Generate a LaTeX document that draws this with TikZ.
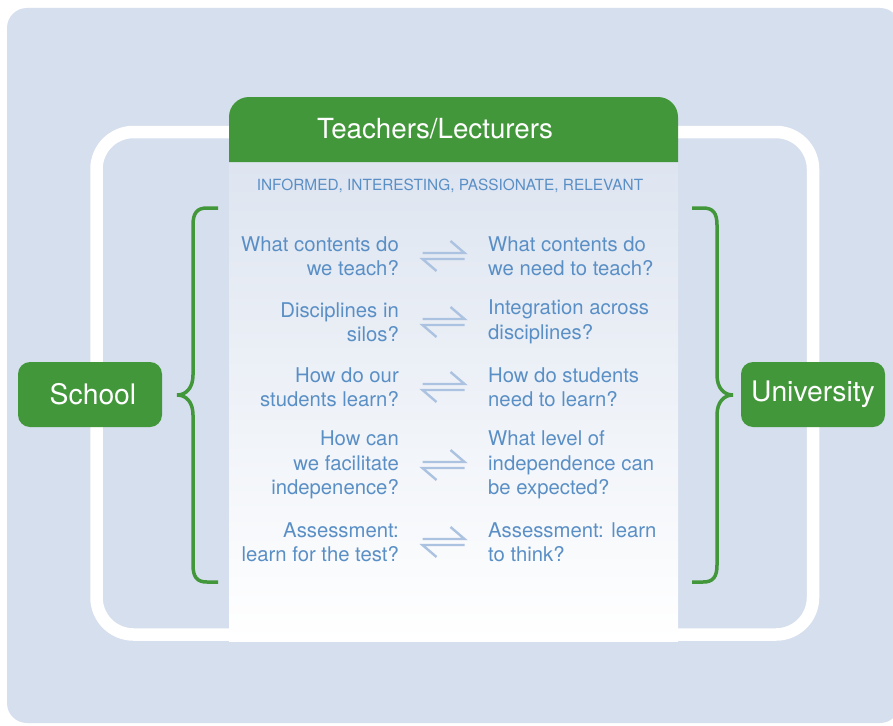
\documentclass[tikz,border=0pt]{standalone}
\usepackage{fontspec}
\setmainfont{TeX Gyre Heros}
\definecolor{bg}{RGB}{214,223,237}
\definecolor{grn}{RGB}{67,151,59}
\definecolor{txt}{RGB}{90,143,198}
\definecolor{arr}{RGB}{172,194,225}
\begin{document}
\begin{tikzpicture}[x=1pt,y=-1pt,
  q/.style={text=txt, font=\fontsize{20.3}{24.5}\selectfont, inner sep=0pt},
  ql/.style={q, align=right, anchor=east},
  qr/.style={q, align=left, anchor=west},
  side/.style={fill=grn, text=white, rounded corners=12pt, minimum width=144pt, minimum height=65pt, inner sep=0pt, font=\fontsize{28.3}{30}\selectfont},
  brace/.style={draw=grn, line width=3.5pt},
  harp/.style={draw=arr, line width=2.4pt}
]
\useasboundingbox (0,0) rectangle (893,725);
\clip (0,0) rectangle (893,725);
\fill[white] (0,0) rectangle (893,725);
% outer panel
\fill[bg, rounded corners=20pt] (7,8) rectangle (900,723);
% white frame
\draw[white, line width=12.5pt, rounded corners=37pt] (96.5,132) rectangle (813,634.5);
% central column
\shade[top color=bg!82!white, bottom color=white] (229,160) rectangle (678,641);
\fill[grn] (229,162) [rounded corners=20pt] -- (229,97) -- (678,97) [sharp corners] -- (678,162) -- cycle;
\node[text=white, font=\fontsize{27.7}{30}\selectfont, inner sep=0pt] (hdr) at (435,129) {Teachers/Lecturers};
\node[text=txt, font=\fontsize{15.4}{18}\selectfont, inner sep=0pt] (sub) at (450,186) {INFORMED, INTERESTING, PASSIONATE, RELEVANT};
% side nodes
\node[side] (school) at (90,394.5) {\hspace*{6pt}School};
\node[side] (uni) at (813,394.5) {University};
% braces
\draw[brace] (218,208) -- (207,208) .. controls (197,208) and (193,213) .. (193,225) -- (193,375)
  .. controls (193,388) and (186,395) .. (177,395) .. controls (186,395) and (193,402) .. (193,415)
  -- (193,565) .. controls (193,577) and (197,582) .. (207,582) -- (218,582);
\draw[brace] (692,208) -- (703,208) .. controls (713,208) and (717,213) .. (717,225) -- (717,375)
  .. controls (717,388) and (724,395) .. (733,395) .. controls (724,395) and (717,402) .. (717,415)
  -- (717,565) .. controls (717,577) and (713,582) .. (703,582) -- (692,582);
% rows
\node[ql] (L1) at (399,256) {What contents do\\we teach?};
\node[qr] (R1) at (488,256) {What contents do\\we need to teach?};
\node[ql] (L2) at (399,322) {Disciplines in\\silos?};
\node[qr] (R2) at (488,322) {Integration across\\disciplines?};
\node[ql] (L3) at (399,387) {How do our\\students learn?};
\node[qr] (R3) at (488,387) {How do students\\need to learn?};
\node[ql] (L4) at (399,465) {How can\\we facilitate\\indepenence?};
\node[qr] (R4) at (488,465) {What level of\\independence can\\be expected?};
\node[ql] (L5) at (399,542) {Assessment:\\learn for the test?};
\node[qr] (R5) at (488,542) {Assessment: learn\\to think?};
\foreach \i in {1,...,5}{
  \path (L\i.east) -- (R\i.west) coordinate[midway] (m\i);
  \draw[harp] ([shift={(-21,-3)}]m\i) -- ([shift={(21,-3)}]m\i) -- ([shift={(7,-15)}]m\i);
  \draw[harp] ([shift={(21,3)}]m\i) -- ([shift={(-21,3)}]m\i) -- ([shift={(-7,15)}]m\i);
}
\end{tikzpicture}
\end{document}
